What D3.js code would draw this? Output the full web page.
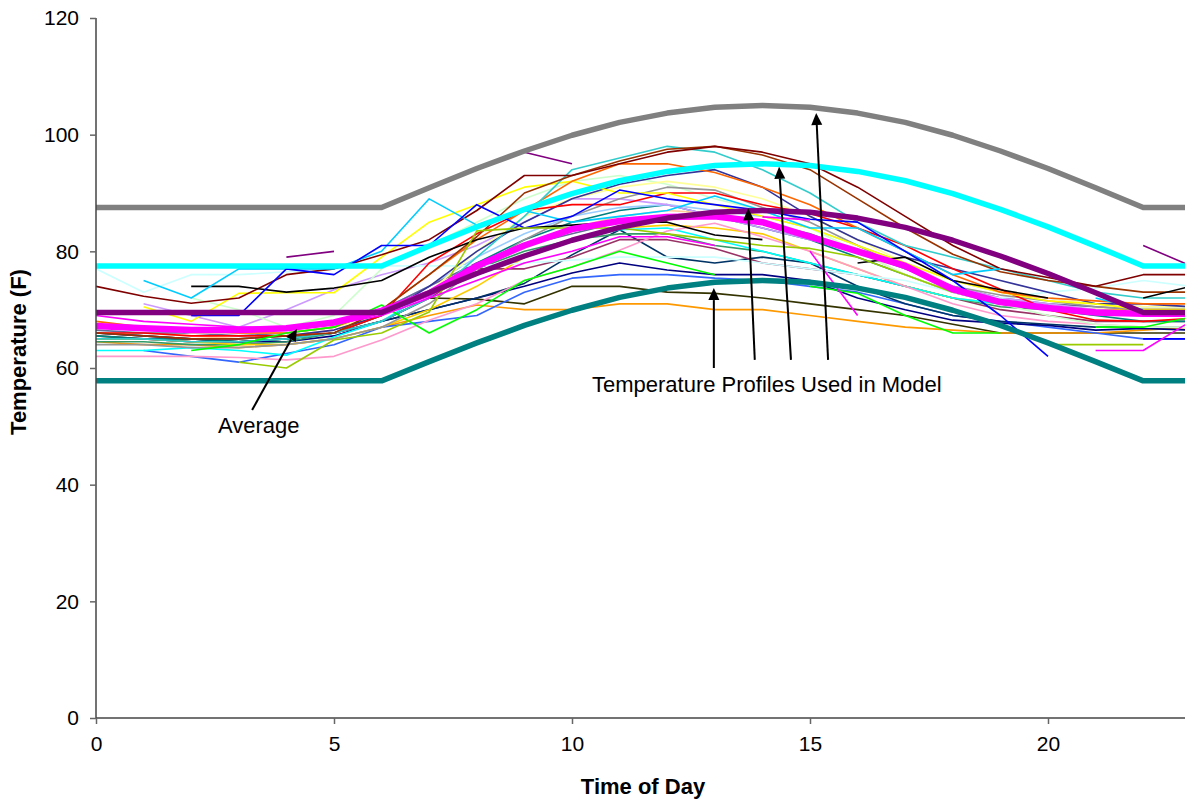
<!DOCTYPE html>
<html><head><meta charset="utf-8">
<script src="https://cdn.jsdelivr.net/npm/d3@7"></script>
<style>body{margin:0;background:#fff}svg{display:block}text{font-family:Arial,"Liberation Sans",sans-serif;fill:#000}</style>
</head><body><svg id="c" width="1185" height="804"></svg>
<script>
const hours = [0,1,2,3,4,5,6,7,8,9,10,11,12,13,14,15,16,17,18,19,20,21,22,23];
const yTicks = [0,20,40,60,80,100,120];
const xTicks = [0,5,10,15,20];
const N = null;

// measured daily temperature records (thin lines)
const sMaroon   = [74,72.3,71.1,72,76,77,79.4,82,87,93,93,95,97,98,97,95,91,86,81,77,75.5,74,76,76];
const sBrown    = [66,65.5,65,65,65.5,66,70,76,82.5,90,93,95.5,97.5,98,96.5,94,89,84,79.5,76.5,75,74,73,73];
const sTurq     = [65,65,64.5,64.5,65,66,68,72,79,86,94,96,98,97,94,90,85,81,79,77,75,73,72,72];
const sOrangeR  = [68,67,66.5,66,66,67,70,76,82,87,92,95,95,93.5,91,88,84,80,76,73,72,71.5,71,71];
const sYellow   = [N,70.5,68,72.8,72.9,72.9,79,85,88,91,92,90,90,88,86,84,81,78,75,73,71.5,71,70,70];
const sLtYellow = [67,67,66,66,66,67,69,73,80,86,89,91,92,91,89,86,82,78,75,73,72,71,70.5,70.5];
const sIndigo   = [66,65.5,65,65,65.5,66.5,69,74,80,85,89,91.5,93,94,91,86,82,79,77,75,73,71,71,70.5];
const sGray     = [64,64,63.5,63.5,64,65,67,71,77,82,86,89,91,90.5,87.5,85,81,77,74,72.5,71.5,70.5,70,70];
const sRed      = [66,66,65.5,65.5,65.5,66,69,78,83,87,88,88,90,90,88,86.5,84,81,77,73.5,70,68.2,68,68.5];
const sBlue     = [N,N,69,69,77,76,81,81,88,84,86,90.5,89,88,87,85.5,85,80,75,69,62,N,65,65];
const sSky      = [N,75,72,77,77,77,80,89,84.5,87,85,86,87,89.5,87,84,84,80,76,77,N,72,70,N];
const sLtCyan   = [77,73,76,76,76.5,77,77.5,77.5,77.5,78,78.5,79,79,79,78,77,76,75,73,72,73,73.7,75,74];
const sLtGreen  = [N,N,72,70,67,69,77,81,85,89,92,93,91.5,89,87,84,80,76,73,71,69,67.5,67,67];
const sTeal     = [65.5,65,65,64.5,65,66,69,73,78,82,85,87,88,86,84,82,79,76,73,71,70,69,68,68];
const sBlack    = [N,N,74,74,73,73.7,75,79,82,84,84.5,85,85,82.8,82,N,78,79,75,73.4,72,N,72,74];
const sRose     = [62,62,62,61.8,61.4,62,64.8,68.2,71,75,77.3,80.2,83.5,84.8,82.5,80,77,74,71,69,68,67.5,67,67];
const sLavender = [N,71,69,67,70,73.4,76,78,81,85,89,89,88,86,84,82,80,77,74,72,71,70,69.5,69.5];
const sCyan     = [63,63,63.5,63,62.2,65.3,68,73,76,79,82,83.7,84,82,80,78,76,74,72,71,70,69.5,69,69];
const sGold     = [65,65,64.5,64,64,65,67,70,74,79,82,84,84.5,84,83,80,77,74,72,71,70.5,70,70,70];
const sSeaGreen = [64.5,64.5,64,64,64.5,66,69,73,77,80,82,83,83,81,80,78,76,74,72,70.5,70,69.5,69,69];
const sPlum     = [65,65,64.5,64.5,65,66,68,72,77,77,79,82,82,80.5,78,77,76,74,72,70,69,68,68,68];
const sMagenta  = [69,68,67.5,67,67,67.5,69,72,75,78,80,82.5,82.5,81,N,80,69,N,N,N,N,63,63,68];
const sMagenta2 = [N,N,N,N,N,N,N,N,N,N,N,N,N,N,85.9,85.4,N,N,N,N,N,N,N,N];
const sSlate    = [66,65.5,65,64.5,65,66,68,70,72,74.5,79.4,83.7,79,78,79,78,74,71,69,68,67.5,67,67,67];
const sGreen    = [N,N,63,64,66,67,70.8,66,70,75,77.3,80,78,76,N,74,72.8,69,66,66,N,67,67,68.7];
const sNavy     = [65,65,64.5,64.5,64.5,65.5,68,70,72,74,76.3,78,76.8,76,76,75,72,70,68.2,67.7,67.3,66.5,66.8,66.5];
const sRoyal    = [N,63,62,61,62.5,64,67,68,69,73,75.4,76,76,75.4,75,74,73,71,69,68,67,66,65,65];
const sOlive    = [65.5,65,65,64.5,65,66,68,72,71.8,71,74,74,73,72.8,72,71,70,69,67.5,66,66,66,66,66];
const sOrange   = [64.5,64,64,63.5,64,65,67,69,70.8,70,70,71,71,70,70,69,68,67,66.5,66,66,66,66.5,67];
const sYelGreen = [N,N,N,61,60,64.8,66,69.6,83.5,84,84,84,83,82,81,80.5,79,76,73,N,64,64,64,N];
const sPurple   = [N,N,N,N,79,80,N,N,N,97,95,N,N,N,N,N,N,N,N,N,N,N,81,77.5];
const sSlateBl  = [66.5,66,66,65.5,66,67,70,74,78,81,83,85,86,86,85,83,80,77,74,72,71,70.5,70,70];
const sTan      = [66,66,65.5,65,65.5,66.5,69,73,77,81,84,86,87,86.5,85,83,80,76,73,71,70,69.5,69,69];
const sPaleBlue = [67,66.5,66,66,66.5,67.5,70,74,79,83,86,87.5,88,87,86,84,81,78,75,73,72,71,70.5,70.5];

// model temperature profiles and average (thick lines)
const profileHot  = [87.5,87.5,87.5,87.5,87.5,87.5,87.5,90.9,94.2,97.2,99.9,102.1,103.7,104.7,105,104.7,103.7,102.1,99.9,97.2,94.2,90.9,87.5,87.5];
const profileWarm = [77.5,77.5,77.5,77.5,77.5,77.5,77.5,80.9,84.2,87.2,89.9,92.1,93.7,94.7,95,94.7,93.7,92.1,89.9,87.2,84.2,80.9,77.5,77.5];
const profileMild = [69.5,69.5,69.5,69.5,69.5,69.5,69.5,72.9,76.2,79.2,81.9,84.1,85.7,86.7,87,86.7,85.7,84.1,81.9,79.2,76.2,72.9,69.5,69.5];
const profileCool = [57.8,57.8,57.8,57.8,57.8,57.8,57.8,61.1,64.3,67.3,69.9,72.1,73.7,74.7,75,74.7,73.7,72.1,69.9,67.3,64.3,61.1,57.8,57.8];
const average     = [67.2,66.8,66.5,66.5,66.8,67.8,69.8,72.8,77.5,81,83.8,85.2,85.9,86,85,82.5,80,77.5,73.5,71.3,70.3,69.5,69.3,69.3];

const thinData = [sOlive,sOrange,sRoyal,sNavy,sSlate,sPlum,sSeaGreen,sGold,sCyan,sRose,sTeal,sTan,sPaleBlue,sSlateBl,
  sLavender,sLtCyan,sLtGreen,sLtYellow,sGray,sIndigo,sRed,sYellow,sOrangeR,sTurq,sBrown,sMaroon,sGreen,sBlack,sSky,sBlue,
  sYelGreen,sMagenta,sMagenta2,sPurple];
const thinColors = ['#333300','#FF9900','#3366FF','#000080','#003366','#993366','#339966','#FFCC00','#00FFFF','#FF99CC','#008080','#FFCC99','#99CCFF','#666699',
  '#CC99FF','#CCFFFF','#CCFFCC','#FFFF99','#969696','#333399','#FF0000','#FFFF00','#FF6600','#33CCCC','#993300','#800000','#00FF00','#000000','#00CCFF','#0000FF',
  '#99CC00','#FF00FF','#FF00FF','#800080'];

const svg = d3.select('#c');
const x = d3.scaleLinear().domain([0,23]).range([96, 96 + 23*47.6]);
const y = d3.scaleLinear().domain([0,120]).range([718,18]);

svg.append('defs').append('clipPath').attr('id','clip')
  .append('rect').attr('x',96).attr('y',10).attr('width',1100).attr('height',710);

const line = d3.line().defined(d => d != null).x((d,i) => x(hours[i])).y(d => y(d));

const g = svg.append('g').attr('clip-path','url(#clip)');
thinData.forEach((s,i) => {
  g.append('path').attr('d', line(s)).attr('fill','none')
   .attr('stroke', thinColors[i]).attr('stroke-width',1.6).attr('stroke-linejoin','round');
});
g.append('path').attr('d', line(average)).attr('fill','none').attr('stroke','#FF00FF').attr('stroke-width',6.5).attr('stroke-linejoin','round');
[[profileHot,'#808080'],[profileWarm,'#00FFFF'],[profileMild,'#800080'],[profileCool,'#008080']].forEach(([s,c]) => {
  g.append('path').attr('d', line(s)).attr('fill','none').attr('stroke',c).attr('stroke-width',5.5).attr('stroke-linejoin','round');
});

// axes
const yAxis = svg.append('g').attr('transform','translate(96,0)')
  .call(d3.axisLeft(y).tickValues(yTicks).tickSize(6).tickPadding(11).tickFormat(d3.format('d')));
const xAxis = svg.append('g').attr('transform','translate(0,718)')
  .call(d3.axisBottom(x).tickValues(xTicks).tickSize(6).tickPadding(12).tickFormat(d3.format('d')));
[yAxis,xAxis].forEach(a => {
  a.select('.domain').attr('stroke','#444').attr('stroke-width',1.5);
  a.selectAll('.tick line').attr('stroke','#666').attr('stroke-width',1.5);
  a.selectAll('.tick text').attr('font-size',21).attr('font-family','Arial,"Liberation Sans",sans-serif').attr('fill','#000');
});
yAxis.select('.domain').attr('d','M0,18V718');
xAxis.select('.domain').attr('d','M96,0H1185');

svg.append('text').attr('transform','translate(26,352) rotate(-90)').attr('text-anchor','middle')
  .attr('font-size',22).attr('font-weight','bold').text('Temperature (F)');
svg.append('text').attr('x',643).attr('y',794).attr('text-anchor','middle')
  .attr('font-size',22).attr('font-weight','bold').text('Time of Day');

// annotations
const arrows = [
  {from:[3.28,52.8], to:[4.22,66.7]},
  {from:[12.98,60.0], to:[12.98,73.7]},
  {from:[13.84,61.4], to:[13.70,87.4]},
  {from:[14.60,61.4], to:[14.35,94.5]},
  {from:[15.38,61.4], to:[15.13,103.7]}
];
arrows.forEach(a => {
  const x1 = x(a.from[0]), y1 = y(a.from[1]), x2 = x(a.to[0]), y2 = y(a.to[1]);
  const ang = Math.atan2(y2-y1, x2-x1);
  const L = 12, W = 5.5;
  const bx = x2 - L*Math.cos(ang), by = y2 - L*Math.sin(ang);
  svg.append('line').attr('x1',x1).attr('y1',y1).attr('x2',bx).attr('y2',by).attr('stroke','#000').attr('stroke-width',2);
  svg.append('path').attr('d',`M${x2},${y2}L${bx + W*Math.sin(ang)},${by - W*Math.cos(ang)}L${bx - W*Math.sin(ang)},${by + W*Math.cos(ang)}Z`).attr('fill','#000');
});
svg.append('text').attr('x',x(10.42)).attr('y',y(56.2)+2).attr('font-size',22).text('Temperature Profiles Used in Model');
svg.append('text').attr('x',218).attr('y',433).attr('font-size',22).text('Average');
</script></body></html>
